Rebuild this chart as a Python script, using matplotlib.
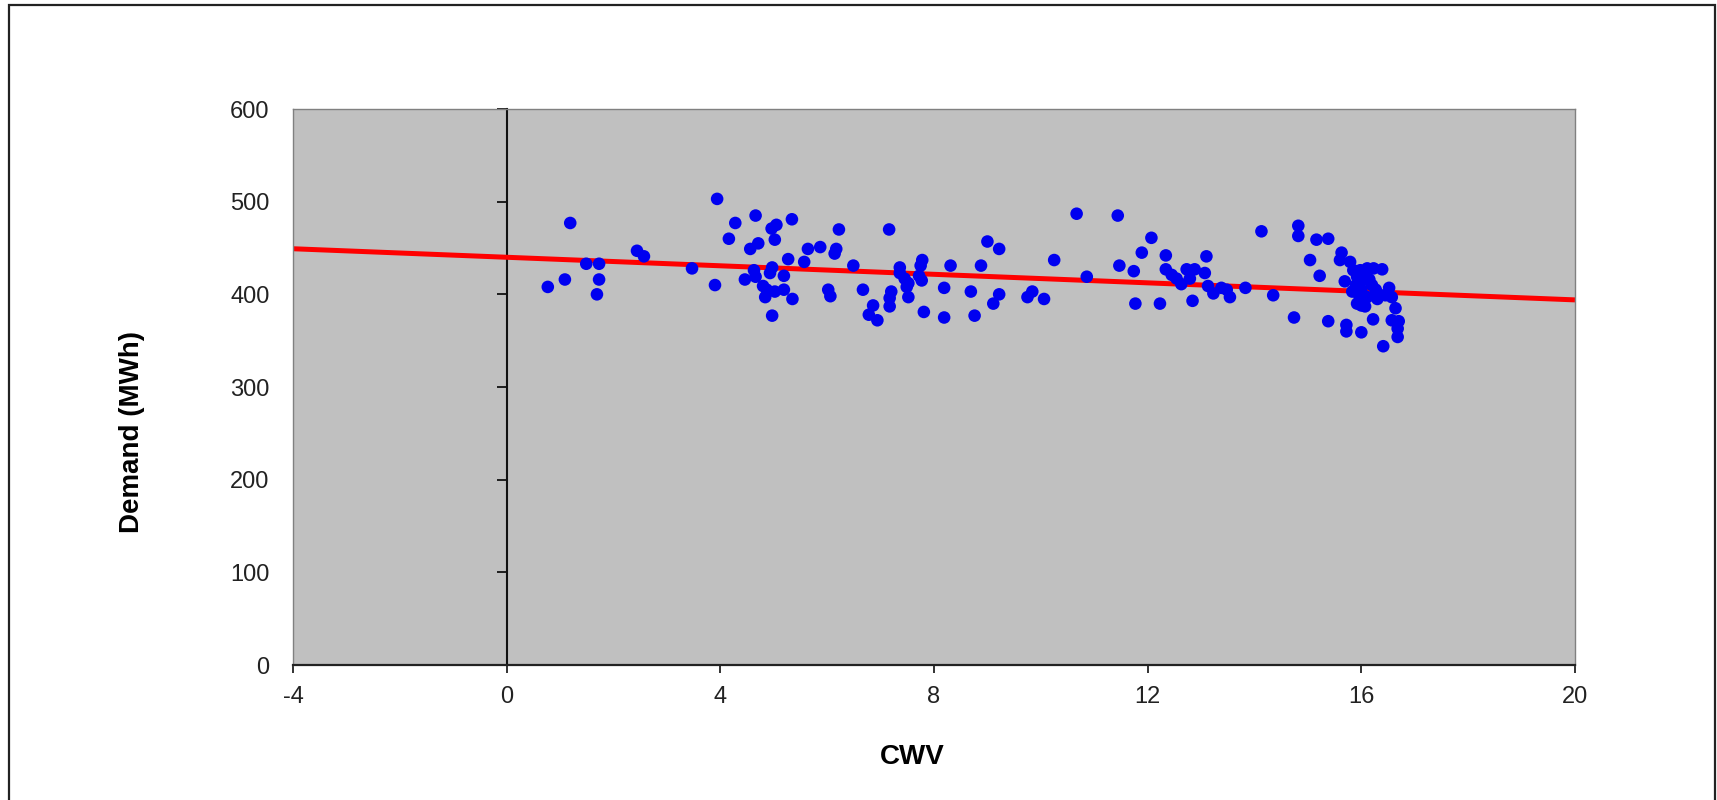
"""
CWV 与电力需求散点图，带线性趋势线（Excel 风格灰底）。
输出：out.png（1717x800）
"""

import matplotlib

matplotlib.use("Agg")
import matplotlib.pyplot as plt
import numpy as np
from matplotlib.patches import Rectangle

# ---- 数据 ----
CWV = [
    0.77, 1.09, 1.19, 1.49, 1.73, 1.73, 1.69, 2.44, 2.57, 3.47, 3.90, 3.94,
    4.16, 4.28, 4.66, 4.46, 4.63, 4.66, 4.56, 4.71, 4.96, 5.05, 5.02, 5.34,
    4.97, 4.93, 5.27, 5.19, 4.80, 4.87, 5.02, 5.19, 4.84, 5.35, 4.97, 5.57,
    5.64, 5.87,
    6.17, 6.14, 6.22, 6.49, 6.02, 6.06, 6.67, 6.86, 6.78, 6.94, 7.16, 7.20,
    7.17, 7.17, 7.36, 7.36, 7.45, 7.52, 7.49, 7.52, 7.78, 7.75, 7.77, 7.72,
    7.81, 8.19, 8.19, 8.31, 8.69, 8.76, 8.88, 9.00, 9.22, 9.22, 9.11, 9.75,
    9.84, 10.06, 10.25, 10.67, 10.86,
    11.44, 11.47, 11.74, 11.77, 11.89, 12.07, 12.23, 12.34, 12.34, 12.45,
    12.54, 12.63, 12.73, 12.88, 12.79, 12.84, 13.07, 13.10, 13.13, 13.23,
    13.38, 13.48, 13.54, 13.83, 14.13, 14.35, 14.74, 14.82, 14.82, 15.04,
    15.16, 15.22, 15.38, 15.38,
    15.63, 15.60, 15.79, 15.69, 15.72, 15.72, 16.00, 15.85, 15.92, 15.98,
    16.11, 16.23, 16.39, 16.06, 16.15, 15.83, 15.96, 15.92, 16.07, 16.11,
    16.27, 16.36, 16.52, 16.57, 16.45, 16.22, 16.64, 16.57, 16.70, 16.68,
    16.68, 16.41, 16.00, 16.20, 16.00, 15.90, 16.30,
]
DEMAND = [
    408, 416, 477, 433, 433, 416, 400, 447, 441, 428, 410, 503,
    460, 477, 485, 416, 426, 419, 449, 455, 471, 475, 459, 481,
    429, 423, 438, 420, 409, 405, 403, 405, 397, 395, 377, 435,
    449, 451,
    449, 444, 470, 431, 405, 398, 405, 388, 378, 372, 470, 403,
    396, 387, 429, 423, 417, 412, 408, 397, 437, 431, 415, 420,
    381, 407, 375, 431, 403, 377, 431, 457, 449, 400, 390, 397,
    403, 395, 437, 487, 419,
    485, 431, 425, 390, 445, 461, 390, 442, 427, 421,
    417, 411, 427, 427, 417, 393, 423, 441, 409, 401,
    407, 405, 397, 407, 468, 399, 375, 474, 463, 437,
    459, 420, 460, 371,
    445, 437, 435, 414, 367, 360, 359, 426, 419, 426,
    428, 428, 427, 416, 416, 403, 399, 390, 387, 397,
    405, 399, 407, 397, 399, 373, 385, 372, 371, 363,
    354, 344, 388, 410, 405, 410, 395,
]

# 趋势线（原图读取）
TREND_INTERCEPT = 440.0
TREND_SLOPE = -2.3

X_TICKS = [-4, 0, 4, 8, 12, 16, 20]
Y_TICKS = [0, 100, 200, 300, 400, 500, 600]

XLABEL = "CWV"
YLABEL = "Demand (MWh)"

# ---- 版式 ----
W_PX, H_PX, DPI = 1717, 800, 100
AX_L, AX_T, AX_R, AX_B = 293, 109, 1575, 665  # 像素
PLOT_BG = "#c0c0c0"
FRAME_C = "#808080"
TICK_FS = 17
LABEL_FS = 20

plt.rcParams["font.family"] = ["Liberation Sans", "DejaVu Sans"]


def main() -> None:
    fig = plt.figure(figsize=(W_PX / DPI, H_PX / DPI), dpi=DPI)
    fig.patch.set_facecolor("white")

    ax = fig.add_axes([
        AX_L / W_PX,
        1 - AX_B / H_PX,
        (AX_R - AX_L) / W_PX,
        (AX_B - AX_T) / H_PX,
    ])
    ax.set_facecolor(PLOT_BG)
    ax.set_xlim(X_TICKS[0], X_TICKS[-1])
    ax.set_ylim(Y_TICKS[0], Y_TICKS[-1])

    # 绘图区边框
    for side in ("left", "top", "right"):
        ax.spines[side].set_color(FRAME_C)
        ax.spines[side].set_linewidth(1.0)
    ax.spines["bottom"].set_color("#222222")
    ax.spines["bottom"].set_linewidth(1.6)

    ax.set_xticks(X_TICKS)
    ax.set_xticklabels([str(v) for v in X_TICKS])
    ax.tick_params(axis="x", direction="out", length=6, width=1.3,
                   colors="#222222", labelsize=TICK_FS, pad=9)

    ax.set_yticks(Y_TICKS)
    ax.set_yticklabels([str(v) for v in Y_TICKS])
    ax.tick_params(axis="y", length=0, labelsize=TICK_FS, pad=17,
                   labelcolor="#222222")

    # 纵轴在 x=0 处穿过
    x0_frac = (0 - X_TICKS[0]) / (X_TICKS[-1] - X_TICKS[0])
    sec = ax.secondary_yaxis(x0_frac)
    sec.set_yticks(Y_TICKS)
    sec.set_yticklabels([])
    sec.spines["left"].set_color("#111111")
    sec.spines["left"].set_linewidth(1.5)
    sec.tick_params(axis="y", direction="out", length=7, width=1.3,
                    colors="#111111")

    # 趋势线
    xs = np.array([X_TICKS[0], X_TICKS[-1]], dtype=float)
    ax.plot(xs, TREND_INTERCEPT + TREND_SLOPE * xs, color="#ff0000",
            linewidth=3.6, zorder=2, solid_capstyle="butt")

    ax.scatter(CWV, DEMAND, s=82, color="#0000f0", edgecolors="none",
               zorder=3)

    fig.text(912 / W_PX, 1 - 757 / H_PX, XLABEL, fontsize=LABEL_FS,
             fontweight="bold", ha="center", va="center")
    fig.text(132 / W_PX, 1 - 432 / H_PX, YLABEL, fontsize=LABEL_FS,
             fontweight="bold", ha="center", va="center", rotation=90)

    # 外框
    fig.patches.append(Rectangle(
        (9 / W_PX, -0.02), 1706 / W_PX, 1 - 5 / H_PX + 0.02,
        transform=fig.transFigure, fill=False, edgecolor="#222222",
        linewidth=1.6,
    ))

    fig.savefig("out.png", dpi=DPI)
    plt.close(fig)


if __name__ == "__main__":
    main()
